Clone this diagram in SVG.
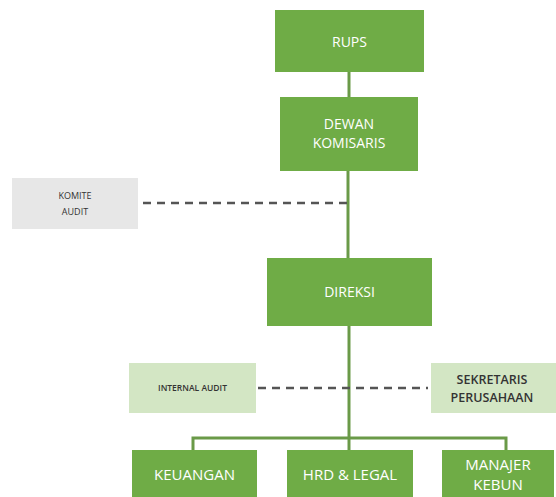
<svg xmlns="http://www.w3.org/2000/svg" width="556" height="497" viewBox="0 0 556 497">
<style>
.g{fill:#6fac46}
.lg{fill:#d3e6c4}
.gr{fill:#e7e7e7}
.t{font-family:"Open Sans","Liberation Sans",sans-serif;fill:#ffffff;text-anchor:middle}
.d{font-family:"Open Sans","Liberation Sans",sans-serif;fill:#333333;text-anchor:middle}
.ln{stroke:#6a9a48;stroke-width:3;fill:none}
.ds{stroke:#555555;stroke-width:2.5;stroke-dasharray:8,6;fill:none}
</style>
<rect width="556" height="497" fill="#ffffff"/>
<g id="connectors">
<line class="ln" x1="349" y1="72" x2="349" y2="97"/>
<line class="ln" x1="348" y1="171" x2="348" y2="258"/>
<line class="ln" x1="349" y1="326" x2="349" y2="450"/>
<polyline class="ln" points="193,450 193,438 506,438 506,450"/>
<line class="ds" x1="143" y1="203" x2="347" y2="203"/>
<line class="ds" x1="258" y1="388" x2="428" y2="388"/>
</g>
<g id="rups"><rect class="g" x="275" y="10" width="149" height="62"/><text class="t" x="349.5" y="47" font-size="14">RUPS</text></g>
<g id="dewan"><rect class="g" x="280" y="97" width="138" height="74"/><text class="t" x="349" y="129" font-size="14">DEWAN</text><text class="t" x="349" y="148" font-size="14">KOMISARIS</text></g>
<g id="komite"><rect class="gr" x="12" y="178" width="126" height="51"/><text class="d" x="75" y="199" font-size="9">KOMITE</text><text class="d" x="75" y="215" font-size="9">AUDIT</text></g>
<g id="direksi"><rect class="g" x="267" y="258" width="165" height="68"/><text class="t" x="349.5" y="297" font-size="14">DIREKSI</text></g>
<g id="internal"><rect class="lg" x="129" y="363" width="127" height="50"/><text class="d" x="192.5" y="391" font-size="8.5" font-weight="600">INTERNAL AUDIT</text></g>
<g id="sekretaris"><rect class="lg" x="431" y="363" width="125" height="50"/><text class="d" x="492" y="384" font-size="12.5" font-weight="600">SEKRETARIS</text><text class="d" x="492" y="402" font-size="12.5" font-weight="600">PERUSAHAAN</text></g>
<g id="keuangan"><rect class="g" x="132" y="450" width="125" height="47"/><text class="t" x="194.5" y="480" font-size="15">KEUANGAN</text></g>
<g id="hrd"><rect class="g" x="287" y="450" width="126" height="47"/><text class="t" x="350" y="480" font-size="15">HRD &amp; LEGAL</text></g>
<g id="manajer"><rect class="g" x="442" y="450" width="112" height="47"/><text class="t" x="498" y="470" font-size="15">MANAJER</text><text class="t" x="498" y="490" font-size="15">KEBUN</text></g>
</svg>
